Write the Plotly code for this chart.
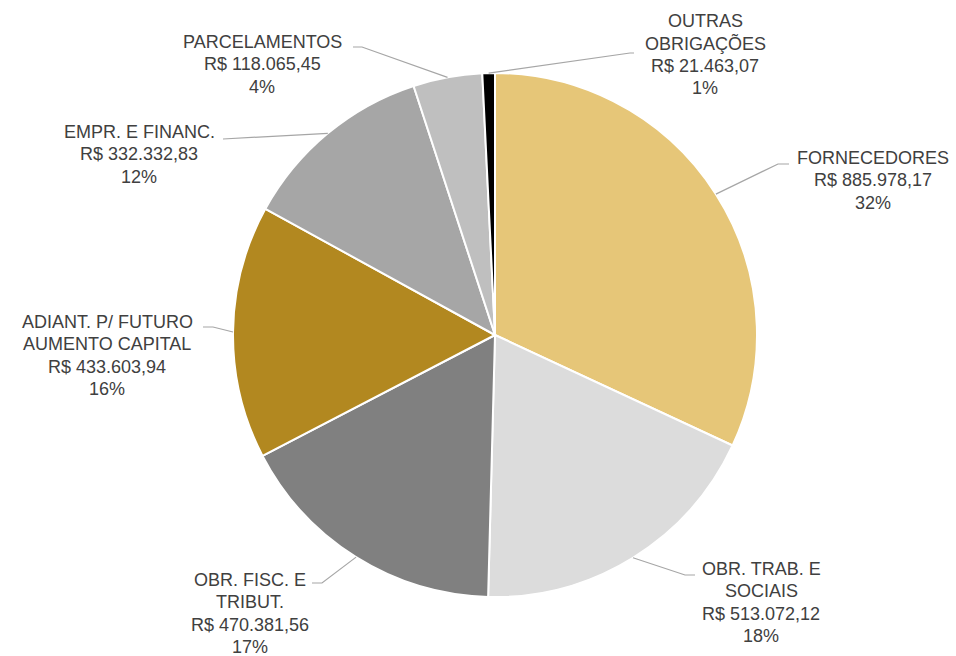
import math
import plotly.graph_objects as go

W, H = 956, 656

labels = ["FORNECEDORES", "OBR. TRAB. E SOCIAIS", "OBR. FISC. E TRIBUT.",
          "ADIANT. P/ FUTURO AUMENTO CAPITAL", "EMPR. E FINANC.",
          "PARCELAMENTOS", "OUTRAS OBRIGAÇÕES"]
label_lines = [["FORNECEDORES"], ["OBR. TRAB. E", "SOCIAIS"], ["OBR. FISC. E", "TRIBUT."],
               ["ADIANT. P/ FUTURO", "AUMENTO CAPITAL"], ["EMPR. E FINANC."],
               ["PARCELAMENTOS"], ["OUTRAS", "OBRIGAÇÕES"]]
values = [885978.17, 513072.12, 470381.56, 433603.94, 332332.83, 118065.45, 21463.07]
colors = ["#E6C678", "#DCDCDC", "#808080", "#B28820", "#A6A6A6", "#BFBFBF", "#000000"]

# label block center x and first-line center y, leader-line elbow and end points (pixels)
label_pos = [(873, 158), (761, 569), (250, 580), (107, 322), (139, 132), (262, 42), (705, 21)]
elbows = [(778, 164), (685, 575), (322, 583), (213, 327), (223, 139), (362, 47), (630, 53)]
ends = [(789, 164), (695, 575), (312, 583), (203, 327), (223, 139), (353, 47), (634, 53)]
LINE_STEP = 22.3

CX, CY, R = 495, 335, 262


def brl(v):
    s = f"{v:,.2f}"
    s = s.replace(",", "X").replace(".", ",").replace("X", ".")
    return "R$ " + s


def px(x):
    return x / W


def py(y):
    return 1 - y / H


total = sum(values)

fig = go.Figure(go.Pie(
    labels=labels, values=values, sort=False, direction="clockwise", rotation=0,
    marker=dict(colors=colors, line=dict(color="#FFFFFF", width=2)),
    textinfo="none", hoverinfo="label+value+percent", showlegend=False,
    domain=dict(x=[px(CX - R), px(CX + R)], y=[py(CY + R), py(CY - R)]),
))

annotations = []
shapes = []
cum = 0.0
for i, v in enumerate(values):
    mid = (cum + v / 2) / total
    cum += v
    ang = 2 * math.pi * mid
    sx = CX + R * math.sin(ang)
    sy = CY - R * math.cos(ang)
    ex, ey = elbows[i]
    tx, ty = ends[i]
    shapes.append(dict(
        type="path", xref="paper", yref="paper",
        path=f"M {px(sx)},{py(sy)} L {px(ex)},{py(ey)} L {px(tx)},{py(ty)}",
        line=dict(color="#A6A6A6", width=1.2),
    ))
    pct = round(v / total * 100)
    lines = label_lines[i] + [brl(v), f"{pct}%"]
    lx, ly = label_pos[i]
    for k, t in enumerate(lines):
        annotations.append(dict(
            x=px(lx), y=py(ly + k * LINE_STEP), xref="paper", yref="paper", text=t,
            showarrow=False, xanchor="center", yanchor="middle", align="center",
            font=dict(family="Liberation Sans, Arial, sans-serif", size=18, color="#404040"),
        ))

fig.update_layout(
    width=W, height=H, margin=dict(l=0, r=0, t=0, b=0),
    paper_bgcolor="#FFFFFF", plot_bgcolor="#FFFFFF",
    annotations=annotations, shapes=shapes,
)

fig.write_html("out.html", config={"displayModeBar": False},
               post_script="document.body.style.margin='0';document.body.style.overflow='hidden';")
